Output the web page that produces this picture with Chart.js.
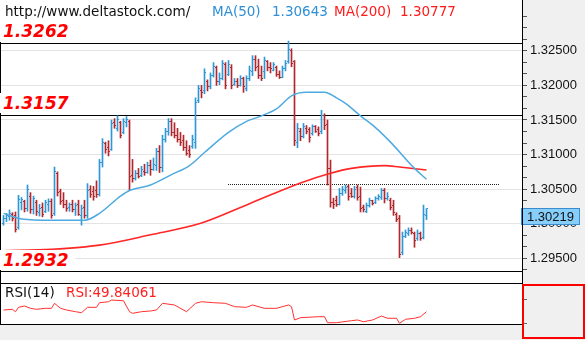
<!DOCTYPE html>
<html><head><meta charset="utf-8">
<script src="https://cdn.jsdelivr.net/npm/chart.js@4/dist/chart.umd.min.js"></script>
<style>
html,body{margin:0;padding:0;background:#fff;}
body{width:585px;height:340px;position:relative;overflow:hidden;font-family:"DejaVu Sans",sans-serif;}
.abs{position:absolute;}
canvas{position:absolute;left:0;}
.t{position:absolute;font-family:"DejaVu Sans",sans-serif;font-size:13.5px;line-height:1;white-space:nowrap;}
.big{position:absolute;left:0;background:#fff;color:#ff0000;font:italic bold 17px/1 "DejaVu Sans",sans-serif;padding:2px 6px 1px 3px;white-space:nowrap;}
</style></head><body>
<div class="abs" style="left:523px;top:0;width:62px;height:340px;background:#f0f0f0"></div>
<div class="abs" style="left:0;top:325px;width:523px;height:15px;background:#f0f0f0"></div>
<canvas id="main" width="585" height="272" style="top:0"></canvas>
<canvas id="rsi" width="585" height="40" style="top:284px"></canvas>
<div class="abs" style="left:0;top:0;width:1px;height:325px;background:#000"></div>
<div class="abs" style="left:522px;top:0;width:1px;height:325px;background:#000"></div>
<div class="abs" style="left:0;top:271px;width:523px;height:1px;background:#000"></div>
<div class="abs" style="left:0;top:283px;width:523px;height:1px;background:#000"></div>
<div class="abs" style="left:0;top:324px;width:523px;height:1px;background:#000"></div>
<div class="abs" style="left:522px;top:284px;width:63px;height:55px;box-sizing:border-box;border:2px solid #ff0000"></div>
<div class="abs" style="left:0;top:0;width:3px;height:42px;background:#fff"></div>
<div id="labels"></div>
<script>
// ---------- data ----------
const opens = [1.3000,1.3008,1.3010,1.3014,1.3012,1.2995,1.3030,1.3032,1.3022,1.3040,
1.3020,1.3030,1.3016,1.3024,1.3018,1.3028,1.3032,1.3015,1.3072,1.3046,
1.3034,1.3028,1.3024,1.3028,1.3020,1.3028,1.3012,1.3024,1.3012,1.3050,
1.3046,1.3048,1.3042,1.3088,1.3116,1.3110,1.3108,1.3146,1.3138,1.3146,
1.3132,1.3146,1.3148,1.3070,1.3066,1.3072,1.3070,1.3076,1.3074,1.3084,
1.3078,1.3084,1.3104,1.3082,1.3122,1.3134,1.3148,1.3132,1.3128,1.3122,
1.3120,1.3110,1.3106,1.3112,1.3118,1.3178,1.3192,1.3192,1.3206,1.3198,
1.3214,1.3226,1.3206,1.3210,1.3230,1.3216,1.3226,1.3202,1.3206,1.3200,
1.3210,1.3196,1.3210,1.3220,1.3238,1.3228,1.3214,1.3220,1.3234,1.3226,
1.3222,1.3226,1.3216,1.3212,1.3224,1.3234,1.3250,1.3234,1.3118,1.3134,
1.3126,1.3138,1.3136,1.3130,1.3140,1.3136,1.3134,1.3156,1.3144,1.3080,
1.3030,1.3034,1.3028,1.3044,1.3048,1.3054,1.3044,1.3040,1.3052,1.3040,
1.3024,1.3018,1.3026,1.3033,1.3030,1.3036,1.3038,1.3048,1.3036,1.3034,
1.3026,1.3014,1.3008,1.2958,1.2982,1.2986,1.2990,1.2986,1.2978,1.2986,
1.2980,1.3012];
const highs = [1.3012,1.3015,1.3020,1.3016,1.3017,1.3041,1.3038,1.3034,1.3056,1.3045,
1.3040,1.3034,1.3028,1.3030,1.3034,1.3036,1.3036,1.3082,1.3075,1.3050,
1.3045,1.3034,1.3030,1.3034,1.3030,1.3034,1.3027,1.3034,1.3058,1.3055,
1.3054,1.3062,1.3093,1.3123,1.3118,1.3120,1.3150,1.3152,1.3156,1.3148,
1.3152,1.3155,1.3150,1.3093,1.3077,1.3080,1.3083,1.3086,1.3089,1.3092,
1.3095,1.3109,1.3113,1.3128,1.3138,1.3152,1.3152,1.3146,1.3138,1.3132,
1.3128,1.3120,1.3113,1.3128,1.3182,1.3200,1.3200,1.3224,1.3208,1.3218,
1.3233,1.3228,1.3218,1.3236,1.3233,1.3236,1.3230,1.3210,1.3210,1.3214,
1.3212,1.3214,1.3228,1.3243,1.3243,1.3238,1.3228,1.3241,1.3236,1.3233,
1.3233,1.3228,1.3221,1.3228,1.3236,1.3264,1.3253,1.3236,1.3145,1.3138,
1.3145,1.3142,1.3139,1.3143,1.3142,1.3140,1.3164,1.3159,1.3150,1.3092,
1.3037,1.3040,1.3051,1.3054,1.3056,1.3056,1.3051,1.3054,1.3056,1.3053,
1.3027,1.3030,1.3037,1.3034,1.3039,1.3042,1.3051,1.3051,1.3045,1.3037,
1.3034,1.3016,1.3012,1.2988,1.2991,1.2994,1.2994,1.2988,1.2991,1.2988,
1.3027,1.3022];
const lows = [1.2998,1.3003,1.3005,1.3004,1.2988,1.2992,1.3020,1.3017,1.3018,1.3015,
1.3014,1.3012,1.3011,1.3010,1.3016,1.3018,1.3008,1.3012,1.3040,1.3028,
1.3023,1.3018,1.3018,1.3017,1.3012,1.3012,1.2998,1.3008,1.3008,1.3038,
1.3034,1.3038,1.3040,1.3082,1.3102,1.3098,1.3106,1.3138,1.3134,1.3124,
1.3130,1.3140,1.3048,1.3060,1.3063,1.3066,1.3068,1.3070,1.3073,1.3070,
1.3077,1.3077,1.3074,1.3075,1.3118,1.3128,1.3127,1.3124,1.3118,1.3113,
1.3106,1.3099,1.3096,1.3109,1.3109,1.3175,1.3182,1.3188,1.3192,1.3195,
1.3212,1.3200,1.3201,1.3208,1.3195,1.3214,1.3195,1.3200,1.3197,1.3199,
1.3190,1.3192,1.3207,1.3214,1.3221,1.3210,1.3207,1.3210,1.3221,1.3218,
1.3221,1.3213,1.3210,1.3211,1.3221,1.3232,1.3227,1.3113,1.3110,1.3120,
1.3124,1.3130,1.3118,1.3128,1.3132,1.3127,1.3130,1.3136,1.3056,1.3024,
1.3022,1.3025,1.3027,1.3041,1.3044,1.3034,1.3038,1.3037,1.3034,1.3017,
1.3017,1.3016,1.3024,1.3027,1.3029,1.3034,1.3035,1.3030,1.3034,1.3020,
1.3012,1.3003,1.2951,1.2955,1.2980,1.2983,1.2985,1.2966,1.2976,1.2976,
1.2978,1.3006];
const closes = [1.3008,1.3012,1.3015,1.3008,1.2992,1.3035,1.3035,1.3022,1.3050,1.3020,
1.3036,1.3018,1.3022,1.3014,1.3030,1.3032,1.3012,1.3075,1.3045,1.3032,
1.3028,1.3022,1.3028,1.3020,1.3026,1.3014,1.3022,1.3012,1.3048,1.3042,
1.3040,1.3042,1.3088,1.3118,1.3108,1.3104,1.3145,1.3142,1.3150,1.3128,
1.3148,1.3150,1.3068,1.3066,1.3072,1.3068,1.3078,1.3074,1.3084,1.3078,
1.3085,1.3104,1.3082,1.3122,1.3134,1.3148,1.3132,1.3128,1.3122,1.3118,
1.3110,1.3102,1.3100,1.3122,1.3175,1.3195,1.3190,1.3218,1.3198,1.3214,
1.3228,1.3206,1.3210,1.3232,1.3200,1.3230,1.3200,1.3205,1.3200,1.3210,
1.3198,1.3210,1.3222,1.3238,1.3226,1.3214,1.3210,1.3236,1.3226,1.3224,
1.3230,1.3216,1.3212,1.3224,1.3232,1.3252,1.3232,1.3120,1.3138,1.3126,
1.3140,1.3134,1.3125,1.3140,1.3134,1.3130,1.3156,1.3142,1.3080,1.3030,
1.3028,1.3028,1.3044,1.3050,1.3052,1.3040,1.3040,1.3050,1.3038,1.3022,
1.3020,1.3026,1.3033,1.3029,1.3036,1.3040,1.3048,1.3036,1.3040,1.3024,
1.3016,1.3006,1.2955,1.2982,1.2988,1.2990,1.2988,1.2976,1.2986,1.2978,
1.3014,1.30219];

const ma50Idx = [0,6,16,27,32,39,42,49,56,62,67,75,81,86,91,96,101,107,111,114,119,124,129,137,141];
const ma50Val = [1.3015,1.3007,1.3005,1.3005,1.3015,1.3040,1.3048,1.3056,1.3071,1.3084,1.3103,1.3132,1.3148,1.3156,1.3166,1.3185,1.3190,1.3190,1.3182,1.3174,1.3156,1.3139,1.3118,1.3080,1.30643];
const ma200Idx = [0,16,32,49,66,82,99,109,116,127,132,141];
const ma200Val = [1.2961,1.2963,1.2969,1.2984,1.3001,1.3029,1.3059,1.3073,1.3080,1.3084,1.3082,1.30777];

const rsiIdx = [0,3,4,5,7,9,11,14,16,17,19,21,24,26,28,31,32,35,36,40,42,43,46,49,51,53,57,61,64,66,70,74,77,81,83,87,91,95,96,97,99,105,107,108,111,116,118,120,123,126,128,131,132,134,137,139,141];
const rsiVal = [52.8,54.0,49.9,57.4,59.7,55.7,54.0,55.7,55.7,64.3,55.7,52.8,49.9,48.2,57.4,57.4,65.3,67.0,69.9,68.7,49.9,47.1,49.9,51.1,52.8,64.3,61.4,49.9,64.3,67.0,65.3,64.3,58.5,57.4,61.4,55.7,55.7,61.4,58.5,35.7,39.6,41.3,41.3,31.0,31.0,34.5,35.7,32.7,35.7,42.5,38.6,38.6,30.0,36.9,38.6,41.3,49.84];

const levelValues = [1.3262, 1.3157, 1.2932];
const levelLabels = ['1.3262', '1.3157', '1.2932'];
const dottedLevel = 1.3057;
const dottedFromIdx = 75, dottedToIdx = 165;

const yLabelValues = [1.295,1.300,1.305,1.310,1.315,1.320,1.325];
const yLabels = ['1.29500','1.30000','1.30500','1.31000','1.31500','1.32000','1.32500'];
const yMinorTicks = [1.29333,1.29667,1.29833,1.30167,1.30333,1.30667,1.30833,1.31167,1.31333,1.31667,1.31833,1.32167,1.32333,1.32667,1.32833,1.33];
const rsiTicks = [30,50,70,90];

const siteText = 'http://www.deltastock.com/';
const ma50Name = 'MA(50)', ma50Last = '1.30643';
const ma200Name = 'MA(200)', ma200Last = '1.30777';
const rsiName = 'RSI(14)', rsiLast = 'RSI:49.84061';
const lastPriceLabel = '1.30219';

// ---------- styles ----------
const UP = '#2f97d6', DOWN = '#b1272d';
const X_MIN = -1.1667, X_MAX = 172.8333;

const ohlcTicks = {
  id: 'ohlcTicks',
  beforeDatasetsDraw(chart) {
    const xs = chart.scales.x, ys = chart.scales.y, ctx = chart.ctx, a = chart.chartArea;
    ctx.save();
    ctx.fillStyle = '#000';
    levelValues.forEach(v => {
      const y = Math.min(Math.round(ys.getPixelForValue(v)), 271);
      ctx.fillRect(a.left, y, a.right - a.left, 1);
    });
    const yd = Math.floor(ys.getPixelForValue(dottedLevel));
    const x0 = Math.floor(xs.getPixelForValue(dottedFromIdx)), x1 = Math.floor(xs.getPixelForValue(dottedToIdx));
    ctx.fillStyle = '#222';
    for (let x = x0; x <= x1; x += 2) ctx.fillRect(x, yd, 1, 1);
    ctx.restore();
  },
  afterDatasetDraw(chart, args) {
    if (args.index !== 0) return;
    const xs = chart.scales.x, ys = chart.scales.y, ctx = chart.ctx;
    ctx.save();
    for (let i = 0; i < closes.length; i++) {
      const cx = Math.floor(xs.getPixelForValue(i));
      ctx.fillStyle = closes[i] >= opens[i] ? UP : DOWN;
      ctx.fillRect(cx - 1, Math.floor(ys.getPixelForValue(opens[i])), 1, 1);
      ctx.fillRect(cx + 1, Math.floor(ys.getPixelForValue(closes[i])), 1, 1);
    }
    ctx.restore();
  },
  afterDraw(chart) {
    const ys = chart.scales.y, ctx = chart.ctx;
    const y = Math.floor(ys.getPixelForValue(closes[closes.length - 1]));
    ctx.save();
    ctx.fillStyle = '#87cefa';
    ctx.fillRect(521, y, 59, 17);
    ctx.strokeStyle = '#3a8cd0';
    ctx.lineWidth = 1;
    ctx.strokeRect(521.5, y + 0.5, 58, 16);
    ctx.fillStyle = '#111';
    ctx.font = '13px "Liberation Sans"';
    ctx.textBaseline = 'middle';
    ctx.fillText(lastPriceLabel, 527, y + 9);
    ctx.restore();
  }
};

new Chart(document.getElementById('main'), {
  type: 'bar',
  data: {
    datasets: [
      {
        type: 'bar', label: 'EURUSD',
        data: closes.map((c, i) => ({ x: i, y: [lows[i], highs[i]] })),
        backgroundColor: closes.map((c, i) => c >= opens[i] ? UP : DOWN),
        borderWidth: 0, barThickness: 1, order: 3
      },
      {
        type: 'line', label: ma50Name,
        data: ma50Idx.map((x, k) => ({ x, y: ma50Val[k] })),
        borderColor: '#4eaae0', borderWidth: 1.5, pointRadius: 0,
        cubicInterpolationMode: 'monotone', order: 1
      },
      {
        type: 'line', label: ma200Name,
        data: ma200Idx.map((x, k) => ({ x, y: ma200Val[k] })),
        borderColor: '#ff2626', borderWidth: 1.6, pointRadius: 0,
        cubicInterpolationMode: 'monotone', order: 2
      }
    ]
  },
  options: {
    responsive: false, animation: false, devicePixelRatio: 1,
    layout: { padding: 0 },
    plugins: { legend: { display: false }, tooltip: { enabled: false } },
    scales: {
      x: { type: 'linear', min: X_MIN, max: X_MAX, display: false, offset: false },
      y: {
        position: 'right', min: 1.29302, max: 1.33235,
        afterBuildTicks: s => { s.ticks = [...yMinorTicks, ...yLabelValues].sort((a, b) => a - b).map(v => ({ value: v })); },
        afterFit: s => { s.width = 63; s.paddingTop = 0; s.paddingBottom = 0; },
        border: { display: false },
        grid: {
          color: c => (c.tick && yLabelValues.some(v => Math.abs(v - c.tick.value) < 1e-6)) ? '#e4e4e4' : 'rgba(0,0,0,0)',
          tickColor: '#555', tickLength: 5, drawTicks: true, lineWidth: 1
        },
        ticks: {
          autoSkip: false, padding: 3, color: '#121212',
          font: { family: 'Liberation Sans', size: 13 },
          callback: v => { const k = yLabelValues.findIndex(t => Math.abs(t - v) < 1e-6); return k >= 0 ? yLabels[k] : ''; }
        }
      }
    }
  },
  plugins: [ohlcTicks]
});

new Chart(document.getElementById('rsi'), {
  type: 'line',
  data: {
    datasets: [{
      label: rsiName,
      data: rsiIdx.map((x, k) => ({ x, y: rsiVal[k] })),
      borderColor: '#ff3030', borderWidth: 1, pointRadius: 0, tension: 0
    }]
  },
  options: {
    responsive: false, animation: false, devicePixelRatio: 1,
    layout: { padding: 0 },
    plugins: { legend: { display: false }, tooltip: { enabled: false } },
    scales: {
      x: { type: 'linear', min: X_MIN, max: X_MAX, display: false },
      y: {
        position: 'right', min: 28.8, max: 97.4,
        afterBuildTicks: s => { s.ticks = rsiTicks.map(v => ({ value: v })); },
        afterFit: s => { s.width = 63; s.paddingTop = 0; s.paddingBottom = 0; },
        border: { display: false },
        grid: { color: 'rgba(0,0,0,0)', tickColor: '#666', tickLength: 5, drawTicks: true },
        ticks: { callback: () => '', padding: 0 }
      }
    }
  }
});

// ---------- text ----------
const L = document.getElementById('labels');
function addText(txt, left, top, color, cls) {
  const d = document.createElement('div');
  d.className = cls || 't';
  d.textContent = txt;
  if (left !== null) d.style.left = left + 'px';
  d.style.top = top + 'px';
  if (color) d.style.color = color;
  L.appendChild(d);
  return d;
}
addText(siteText, 5, 5, '#111');
addText(ma50Name, 212, 5, '#2f8fd8');
addText(ma50Last, 272, 5, '#2f8fd8');
addText(ma200Name, 334, 5, '#ff1a1a');
addText(ma200Last, 400, 5, '#ff1a1a');
addText(levelLabels[0], null, 21, null, 'big');
addText(levelLabels[1], null, 93, null, 'big');
addText(levelLabels[2], null, 250, null, 'big');
addText(rsiName, 5, 286, '#111');
addText(rsiLast, 66, 286, '#ff2020');
</script>
</body></html>
